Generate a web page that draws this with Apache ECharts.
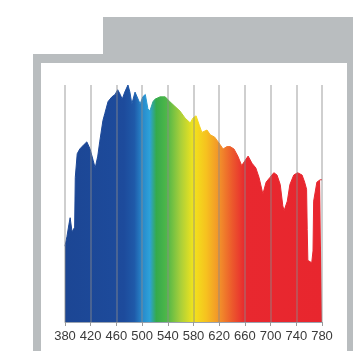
<!DOCTYPE html>
<html>
<head>
<meta charset="utf-8">
<script src="https://cdn.jsdelivr.net/npm/echarts@6/dist/echarts.min.js"></script>
<style>
  html, body { margin: 0; padding: 0; background: #ffffff; }
  #chart { width: 353px; height: 351px; }
</style>
</head>
<body>
<div id="chart"></div>
<script>
// Wavelength (nm) samples
const wavelengths = [380,383,386,388,391,394,395,396,399,403,410,414,419,424,427,431,434,439,442,447,453,458,462,466,469,473,478,481,484,489,492,497,501,505,509,512,517,520,528,536,543,551,559,567,575,579,584,589,593,601,606,613,621,626,632,637,643,649,655,660,665,671,677,682,688,693,699,705,710,715,719,721,726,730,736,742,749,753,756,757,758,764,766,767,772,777,780];
// Relative intensity (%)
const intensity = [32,36,41,44,38,38,40,61,71,73,75,76,73,68,65,70,76,85,88,93,95,96,98,96,94,97,100,97,92,97,97,92,95,96,90,89,93,94,95,95,93,91,89,86,84,86,87,83,80,81,79,78,75,73,74,74,73,70,66,68,70,67,65,61,54,59,61,63,62,58,49,47,51,58,62,63,62,59,56,39,26,25,30,51,59,60,60];
// Axis tick labels
const tickLabels = [380,420,460,500,540,580,620,660,700,740,780];

const data = wavelengths.map((w, i) => [w, intensity[i]]);

const spectrum = new echarts.graphic.LinearGradient(0, 0, 1, 0, [
  { offset: 0.00, color: '#1c4694' },
  { offset: 0.23, color: '#1d4b9c' },
  { offset: 0.27, color: '#1f5aa9' },
  { offset: 0.30, color: '#2788cb' },
  { offset: 0.33, color: '#2da2d9' },
  { offset: 0.355, color: '#34aa4c' },
  { offset: 0.40, color: '#52b848' },
  { offset: 0.45, color: '#a9cf3a' },
  { offset: 0.50, color: '#f2e41c' },
  { offset: 0.55, color: '#f6c11f' },
  { offset: 0.60, color: '#f2922a' },
  { offset: 0.65, color: '#ec5a2c' },
  { offset: 0.70, color: '#e8282f' },
  { offset: 1.00, color: '#e8262e' }
]);

const chart = echarts.init(document.getElementById('chart'), null, { renderer: 'canvas' });
chart.setOption({
  animation: false,
  backgroundColor: '#ffffff',
  graphic: [
    { type: 'rect', z: -10, shape: { x: 103, y: 17, width: 250, height: 40 }, style: { fill: '#b9bdbf' } },
    { type: 'rect', z: -10, shape: { x: 33, y: 54, width: 320, height: 297 }, style: { fill: '#b9bdbf' } },
    { type: 'rect', z: -9, shape: { x: 41, y: 63, width: 306, height: 288 }, style: { fill: '#ffffff' } }
  ],
  grid: { left: 65, right: 31, top: 85, bottom: 29, containLabel: false },
  xAxis: {
    type: 'value',
    min: 380, max: 780, interval: 40,
    z: 5,
    axisLine: { show: true, lineStyle: { color: '#9aa3b0', width: 1 } },
    axisTick: { show: true, length: 4, lineStyle: { color: '#9a9a9a' } },
    splitLine: { show: true, lineStyle: { color: 'rgba(140,140,140,0.55)', width: 1.5 } },
    axisLabel: {
      color: '#3a3a3a', fontSize: 13, fontFamily: 'Liberation Sans, Arial, sans-serif',
      margin: 8,
      formatter: v => tickLabels.includes(v) ? String(v) : ''
    }
  },
  yAxis: {
    type: 'value', min: 0, max: 100,
    show: false,
    splitLine: { show: false }
  },
  series: [{
    type: 'line',
    data: data,
    symbol: 'none',
    z: 2,
    lineStyle: { color: spectrum, width: 1 },
    areaStyle: { color: spectrum, opacity: 1 }
  }]
});
</script>
</body>
</html>
